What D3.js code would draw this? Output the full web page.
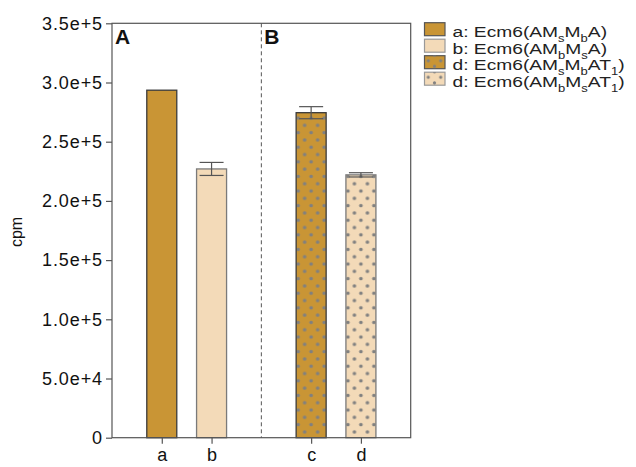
<!DOCTYPE html>
<html><head><meta charset="utf-8">
<script src="https://cdn.jsdelivr.net/npm/d3@7"></script>
<style>body{margin:0;background:#fff;} svg{display:block;font-family:"Liberation Sans",Arial,sans-serif;}</style>
</head><body><svg id="c" width="636" height="467"></svg>
<script>
const categories = ["a","b","c","d"];
const positions = [1,2,4,5];
const values = [293500, 227000, 274500, 222000];
const errors = [0, 5500, 5100, 1800];
const fills = ["#C99535","#F3DAB8","#C99535","#F3DAB8"];
const strokes = ["#3a3a3a","#7a7a7a","#3a3a3a","#7a7a7a"];
const dotted = [false,false,true,true];
const yTicks = [0,50000,100000,150000,200000,250000,300000,350000];
const yTickLabels = ["0","5.0e+4","1.0e+5","1.5e+5","2.0e+5","2.5e+5","3.0e+5","3.5e+5"];
const panelLabels = ["A","B"];
const legendLabels = [
  [["a: Ecm6(AM",0],["s",1],["M",0],["b",1],["A)",0]],
  [["b: Ecm6(AM",0],["b",1],["M",0],["s",1],["A)",0]],
  [["d: Ecm6(AM",0],["s",1],["M",0],["b",1],["AT",0],["1",1],[")",0]],
  [["d: Ecm6(AM",0],["b",1],["M",0],["s",1],["AT",0],["1",1],[")",0]]
];

const svg = d3.select("#c");
const L=112, R=410.7, T=23.3, B=437.7;
const x = d3.scaleLinear().domain([0,6]).range([L,R]);
const y = d3.scaleLinear().domain([0,350000]).range([B,T]);
const bw = 30;
const defs = svg.append("defs");

function dotPattern(id, px, py, w, h, r){
  const pat = defs.append("pattern").attr("id",id)
    .attr("patternUnits","userSpaceOnUse")
    .attr("x", px).attr("y", py).attr("width",w).attr("height",h);
  [[0,0],[w,0],[w/2,h/2],[0,h],[w,h]].forEach(d=>
    pat.append("circle").attr("cx",d[0]).attr("cy",d[1]).attr("r",r).attr("fill","#808080"));
}
positions.forEach((p,i)=>{ if(dotted[i]) dotPattern("dots"+i, x(p)-6.5, B-5.8, 13, 14.6, 1.8); });

// dashed separator
svg.append("line").attr("x1",x(3)).attr("x2",x(3)).attr("y1",T).attr("y2",B)
  .attr("stroke","#555").attr("stroke-width",1).attr("stroke-dasharray","4,3");

// bars
const g = svg.append("g");
categories.forEach((c,i)=>{
  const x0 = x(positions[i])-bw/2;
  const yy = y(values[i]), hh = B-y(values[i]);
  g.append("rect").attr("x",x0).attr("y",yy).attr("width",bw).attr("height",hh).attr("fill",fills[i]);
  if(dotted[i]) g.append("rect").attr("x",x0).attr("y",yy).attr("width",bw).attr("height",hh)
    .attr("fill","url(#dots"+i+")");
  g.append("rect").attr("x",x0).attr("y",yy).attr("width",bw).attr("height",hh)
    .attr("fill","none").attr("stroke",strokes[i]).attr("stroke-width",1.3);
  if(errors[i]>0){
    const cx = x(positions[i]);
    const eg = g.append("g").attr("stroke","#555").attr("stroke-width",1.2);
    eg.append("line").attr("x1",cx).attr("x2",cx).attr("y1",y(values[i]+errors[i])).attr("y2",y(values[i]-errors[i]));
    eg.append("line").attr("x1",cx-12).attr("x2",cx+12).attr("y1",y(values[i]+errors[i])).attr("y2",y(values[i]+errors[i]));
    eg.append("line").attr("x1",cx-12).attr("x2",cx+12).attr("y1",y(values[i]-errors[i])).attr("y2",y(values[i]-errors[i]));
  }
});

// panel frame
svg.append("rect").attr("x",L).attr("y",T).attr("width",R-L).attr("height",B-T)
  .attr("fill","none").attr("stroke","#555").attr("stroke-width",1.2);

// y axis
const ya = svg.append("g").attr("transform",`translate(${L},0)`)
  .call(d3.axisLeft(y).tickValues(yTicks).tickFormat((d,i)=>yTickLabels[i]).tickSize(6).tickPadding(3));
ya.select(".domain").remove();
ya.selectAll("line").attr("stroke","#555").attr("stroke-width",1.2);
ya.selectAll("text").attr("font-size",18).attr("letter-spacing","0.9px").attr("fill","#111")
  .attr("font-family","Liberation Sans, Arial, sans-serif");

// x axis
const xa = svg.append("g").attr("transform",`translate(0,${B})`)
  .call(d3.axisBottom(x).tickValues(positions).tickFormat((d,i)=>categories[i]).tickSize(6).tickPadding(5));
xa.select(".domain").remove();
xa.selectAll("line").attr("stroke","#555").attr("stroke-width",1.2);
xa.selectAll("text").attr("font-size",18).attr("fill","#111").attr("font-family","Liberation Sans, Arial, sans-serif");

// y label
svg.append("text").attr("transform",`translate(21.5,232) rotate(-90)`)
  .attr("text-anchor","middle").attr("font-size",16).attr("fill","#111").text("cpm");

// panel labels
[0.06,3.06].forEach((p,i)=>{
  svg.append("text").attr("x",x(p)).attr("y",44).attr("font-size",21).attr("font-weight","bold")
    .attr("fill","#111").text(panelLabels[i]);
});

// legend
const legFills = ["#C99535","#F3DAB8","#C99535","#F3DAB8"];
const legStrokes = ["#555","#999","#555","#999"];
legendLabels.forEach((segs,i)=>{
  const yy = 22.7 + i*16.5;
  if(i>=2) dotPattern("ldots"+i, 428.3, yy+5.1, 12.4, 11.2, 1.6);
  svg.append("rect").attr("x",424.5).attr("y",yy).attr("width",20.5).attr("height",13)
    .attr("fill",legFills[i]).attr("stroke",legStrokes[i]).attr("stroke-width",1.2);
  if(i>=2) svg.append("rect").attr("x",424.5).attr("y",yy).attr("width",20.5).attr("height",13)
    .attr("fill","url(#ldots"+i+")");
  const t = svg.append("text").attr("transform",`translate(452.5,${yy+14.6}) scale(1.24,1)`)
    .attr("font-size",15.5).attr("fill","#222");
  let prevSub=false;
  segs.forEach(s=>{
    const ts = t.append("tspan").text(s[0]);
    if(s[1]){ ts.attr("font-size",10.5).attr("dy",prevSub?0:5); prevSub=true; }
    else { ts.attr("dy",prevSub?-5:0); prevSub=false; }
  });
});
</script></body></html>
